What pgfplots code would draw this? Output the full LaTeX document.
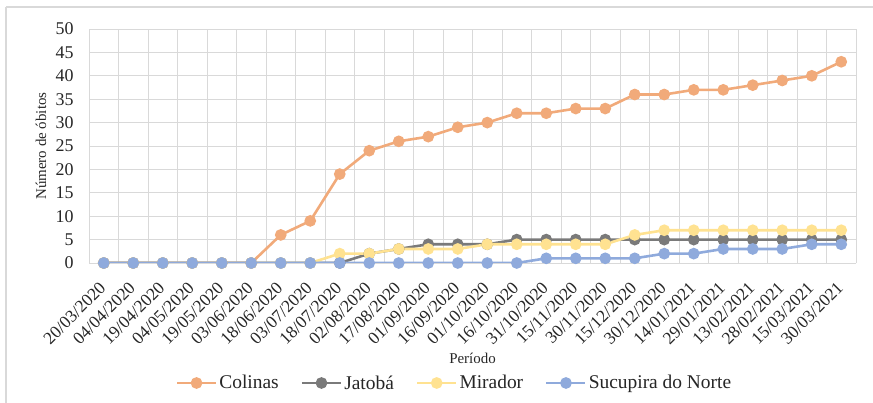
\documentclass[border=0pt]{standalone}
\usepackage{fontspec}
\setmainfont{Liberation Serif}
\usepackage{pgfplots}
\usepackage{pgfplotstable}
\pgfplotsset{compat=1.18}
\definecolor{colinas}{RGB}{241,170,122}
\definecolor{jatoba}{RGB}{122,122,122}
\definecolor{mirador}{RGB}{255,226,145}
\definecolor{sucupira}{RGB}{143,170,220}
\definecolor{gridc}{RGB}{217,217,217}

\pgfplotstableread{
x colinas jatoba mirador sucupira
0  0  0 0 0
1  0  0 0 0
2  0  0 0 0
3  0  0 0 0
4  0  0 0 0
5  0  0 0 0
6  6  0 0 0
7  9  0 0 0
8  19 0 2 0
9  24 2 2 0
10 26 3 3 0
11 27 4 3 0
12 29 4 3 0
13 30 4 4 0
14 32 5 4 0
15 32 5 4 1
16 33 5 4 1
17 33 5 4 1
18 36 5 6 1
19 36 5 7 2
20 37 5 7 2
21 37 5 7 3
22 38 5 7 3
23 39 5 7 3
24 40 5 7 4
25 43 5 7 4
}\datatable

\begin{document}
\begin{tikzpicture}
\useasboundingbox (0bp,0bp) rectangle (873bp,403bp);
\draw[gridc, line width=1.2bp] (6bp,396bp) -- (873bp,396bp);
\draw[gridc, line width=1.2bp] (6bp,396bp) -- (6bp,0bp);
\begin{axis}[
  at={(89bp,140bp)}, anchor=south west,
  scale only axis, width=767bp, height=234bp,
  xmin=-0.5, xmax=25.5, ymin=0, ymax=50,
  xtick={0,...,25},
  xticklabels={20/03/2020,04/04/2020,19/04/2020,04/05/2020,19/05/2020,03/06/2020,18/06/2020,03/07/2020,18/07/2020,02/08/2020,17/08/2020,01/09/2020,16/09/2020,01/10/2020,16/10/2020,31/10/2020,15/11/2020,30/11/2020,15/12/2020,30/12/2020,14/01/2021,29/01/2021,13/02/2021,28/02/2021,15/03/2021,30/03/2021},
  minor xtick={-0.5,0.5,...,25.5},
  ytick={0,5,...,50},
  xmajorgrids=false, xminorgrids=true, ymajorgrids=true,
  grid style={gridc, line width=0.9bp},
  minor grid style={gridc, line width=0.9bp},
  axis line style={draw=none},
  major tick length=0pt, minor tick length=0pt,
  /pgf/number format/assume math mode=true,
  yticklabel style={font=\fontsize{18}{18}\selectfont, text=black!85, xshift=-12bp},
  xticklabel style={font=\fontsize{17.5}{17.5}\selectfont, text=black!85, yshift=-22bp, xshift=-1bp, rotate=45, anchor=east, inner sep=0pt},
  xlabel={Período}, ylabel={Número de óbitos},
  every axis y label/.style={at={(axis description cs:0,0.5)}, xshift=-48bp, rotate=90, anchor=center, font=\fontsize{15}{15}\selectfont, text=black!85},
  every axis x label/.style={at={(axis description cs:0.5,0)}, yshift=-95bp, anchor=center, font=\fontsize{15}{15}\selectfont, text=black!85},
  legend columns=4,
  legend style={at={(axis description cs:0.4765,-0.5128)}, anchor=center, draw=none,
    font=\fontsize{19.5}{19.5}\selectfont, text=black!85, cells={anchor=west},
    nodes={inner sep=2bp},
    /tikz/every even column/.append style={column sep=20bp}},
  legend image code/.code={\draw[mark repeat=2,mark phase=2,#1] plot coordinates {(0bp,0bp) (19.5bp,0bp) (39bp,0bp)};},
  every axis plot/.append style={line width=2.6bp, mark=*, mark size=4.5bp},
]
\addplot[colinas, mark options={fill=colinas, draw=colinas}] table[x=x, y=colinas] {\datatable};
\addlegendentry{Colinas}
\addplot[jatoba, mark options={fill=jatoba, draw=jatoba}] table[x=x, y=jatoba] {\datatable};
\addlegendentry{Jatobá}
\addplot[mirador, mark options={fill=mirador, draw=mirador}] table[x=x, y=mirador] {\datatable};
\addlegendentry{Mirador}
\addplot[sucupira, mark options={fill=sucupira, draw=sucupira}] table[x=x, y=sucupira] {\datatable};
\addlegendentry{Sucupira do Norte}
\end{axis}
\end{tikzpicture}
\end{document}
